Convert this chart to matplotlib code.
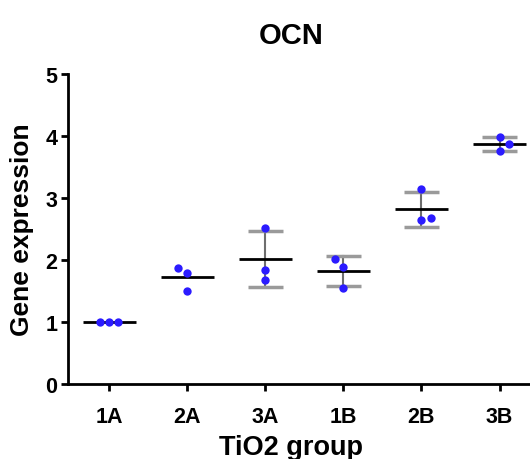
import matplotlib
matplotlib.use("Agg")
import matplotlib.pyplot as plt
import numpy as np

plt.rcParams['font.family'] = ['Liberation Sans', 'DejaVu Sans']
plt.rcParams['font.weight'] = 'bold'

groups = ["1A", "2A", "3A", "1B", "2B", "3B"]
values = [
    [1.00, 1.00, 1.00],
    [1.87, 1.79, 1.50],
    [2.52, 1.84, 1.67],
    [2.02, 1.88, 1.55],
    [3.14, 2.67, 2.64],
    [3.98, 3.87, 3.76],
]
show_sd = [True, False, True, True, True, True]
jitter = [
    [-0.115, 0.0, 0.115],
    [-0.12, 0.0, 0.0],
    [0.0, 0.0, 0.0],
    [-0.11, 0.0, 0.0],
    [0.0, 0.12, 0.0],
    [0.0, 0.12, 0.0],
]

fig = plt.figure(figsize=(5.3, 4.6), dpi=100)
ax = fig.add_axes([0.129, 0.163, 0.871, 0.674])

for i, (vals, jit) in enumerate(zip(values, jitter)):
    v = np.array(vals)
    m = v.mean()
    sd = v.std(ddof=1)
    if show_sd[i] and sd > 0:
        ax.plot([i, i], [m - sd, m + sd], color='#6e6e6e', lw=1.5, zorder=2)
        ax.plot([i - 0.22, i + 0.22], [m + sd, m + sd], color='#9a9a9a', lw=2.5, zorder=2, solid_capstyle='butt')
        ax.plot([i - 0.22, i + 0.22], [m - sd, m - sd], color='#9a9a9a', lw=2.5, zorder=2, solid_capstyle='butt')
    ax.plot([i - 0.34, i + 0.34], [m, m], color='black', lw=2, zorder=3, solid_capstyle='butt')
    ax.scatter(np.array(jit) + i, v, s=36, color='#2b1bff', zorder=4, linewidths=0)

ax.set_xlim(-0.523, 5.39)
ax.set_ylim(0, 5)
ax.set_yticks([0, 1, 2, 3, 4, 5])
ax.set_xticks(range(len(groups)))
ax.set_xticklabels(groups)
ax.spines['top'].set_visible(False)
ax.spines['right'].set_visible(False)
ax.spines['left'].set_linewidth(2)
ax.spines['bottom'].set_linewidth(2)
ax.tick_params(axis='both', width=2, length=5, labelsize=15.5)
ax.tick_params(axis='x', pad=11)
ax.tick_params(axis='y', pad=3)
for lab in ax.get_xticklabels() + ax.get_yticklabels():
    lab.set_fontweight('bold')

ax.set_xlabel("TiO2 group", fontsize=19.5, fontweight='bold', labelpad=5, x=0.483)
ax.set_ylabel("Gene expression", fontsize=19, fontweight='bold', labelpad=8)
ax.set_title("OCN", fontsize=21, fontweight='bold', pad=22, x=0.483)

fig.savefig("out.png", dpi=100)
